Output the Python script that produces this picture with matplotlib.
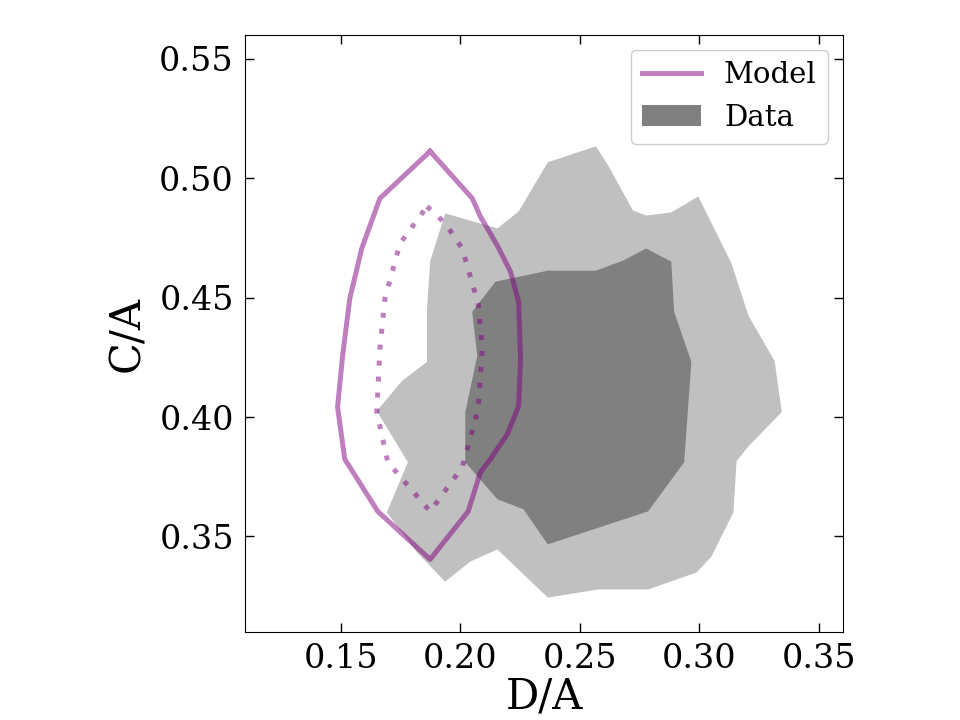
import matplotlib
matplotlib.use("Agg")
import matplotlib.pyplot as plt
from matplotlib.lines import Line2D
from matplotlib.patches import Patch

plt.rcParams['font.family'] = ['DejaVu Serif']

# Data contours (outer = light, inner = dark)
data_outer_x = [0.1937, 0.2155, 0.2244, 0.2366, 0.2567, 0.2618, 0.2722, 0.2777, 0.2882, 0.2995,
                0.3134, 0.3205, 0.3314, 0.3344, 0.3205, 0.3155, 0.3142, 0.3050, 0.2987, 0.2785,
                0.2575, 0.2366, 0.2155, 0.2042, 0.1937, 0.1819, 0.1693, 0.1781, 0.1651, 0.1756,
                0.1861, 0.1861, 0.1874]
data_outer_y = [0.4853, 0.4790, 0.4861, 0.5067, 0.5134, 0.5054, 0.4865, 0.4844, 0.4857, 0.4924,
                0.4643, 0.4424, 0.4235, 0.4021, 0.3878, 0.3815, 0.3601, 0.3416, 0.3349, 0.3278,
                0.3278, 0.3244, 0.3446, 0.3395, 0.3311, 0.3433, 0.3601, 0.3811, 0.4025, 0.4151,
                0.4231, 0.4454, 0.4651]

data_inner_x = [0.2050, 0.2147, 0.2366, 0.2567, 0.2680, 0.2777, 0.2882, 0.2894, 0.2966, 0.2936,
                0.2785, 0.2366, 0.2264, 0.2155, 0.2021, 0.2021, 0.2071]
data_inner_y = [0.4441, 0.4567, 0.4613, 0.4613, 0.4655, 0.4706, 0.4651, 0.4441, 0.4231, 0.3811,
                0.3605, 0.3467, 0.3614, 0.3656, 0.3811, 0.4021, 0.4256]

# Model contours
model_outer_x = [0.1874, 0.2050, 0.2084, 0.2155, 0.2210, 0.2244, 0.2252, 0.2244, 0.2197, 0.2126,
                 0.2084, 0.2033, 0.1874, 0.1655, 0.1517, 0.1487, 0.1508, 0.1538, 0.1588, 0.1664,
                 0.1874]
model_outer_y = [0.5113, 0.4916, 0.4840, 0.4718, 0.4609, 0.4483, 0.4244, 0.4046, 0.3929, 0.3824,
                 0.3769, 0.3605, 0.3404, 0.3605, 0.3824, 0.4042, 0.4256, 0.4496, 0.4706, 0.4916,
                 0.5113]

model_inner_x = [0.1861, 0.1937, 0.2008, 0.2075, 0.2092, 0.2075, 0.2008, 0.1874, 0.1697, 0.1651,
                 0.1664, 0.1685, 0.1748, 0.1861]
model_inner_y = [0.4882, 0.4811, 0.4706, 0.4475, 0.4286, 0.4034, 0.3790, 0.3605, 0.3811, 0.4021,
                 0.4286, 0.4496, 0.4727, 0.4882]

xticks = [0.15, 0.20, 0.25, 0.30, 0.35]
yticks = [0.35, 0.40, 0.45, 0.50, 0.55]

fig = plt.figure(figsize=(9.6, 7.2), dpi=100)
ax = fig.add_axes([245/960, 88/720, 598/960, 597/720])

ax.fill(data_outer_x, data_outer_y, color='#c0c0c0', lw=0)
ax.fill(data_inner_x, data_inner_y, color='#808080', lw=0)
ax.plot(model_outer_x, model_outer_y, color='purple', alpha=0.5, lw=3.6)
ax.plot(model_inner_x, model_inner_y, color='purple', alpha=0.5, lw=3.6, ls=(0, (1, 2.2)))

ax.set_xlim(0.11, 0.36)
ax.set_ylim(0.31, 0.56)
ax.set_xticks(xticks)
ax.set_yticks(yticks)
ax.set_xticklabels([f"{v:.2f}" for v in xticks])
ax.set_yticklabels([f"{v:.2f}" for v in yticks])
ax.tick_params(direction='in', top=True, right=True, length=6.5, width=1.0, labelsize=24, pad=8)
ax.set_xlabel('D/A', fontsize=30, labelpad=0)
ax.set_ylabel('C/A', fontsize=30, labelpad=8)

handles = [Line2D([0], [0], color='purple', alpha=0.5, lw=3.6),
           Patch(facecolor='#808080', edgecolor='none')]
ax.legend(handles, ['Model', 'Data'], loc='upper right', fontsize=21, framealpha=1)

fig.savefig('out.png', dpi=100)
